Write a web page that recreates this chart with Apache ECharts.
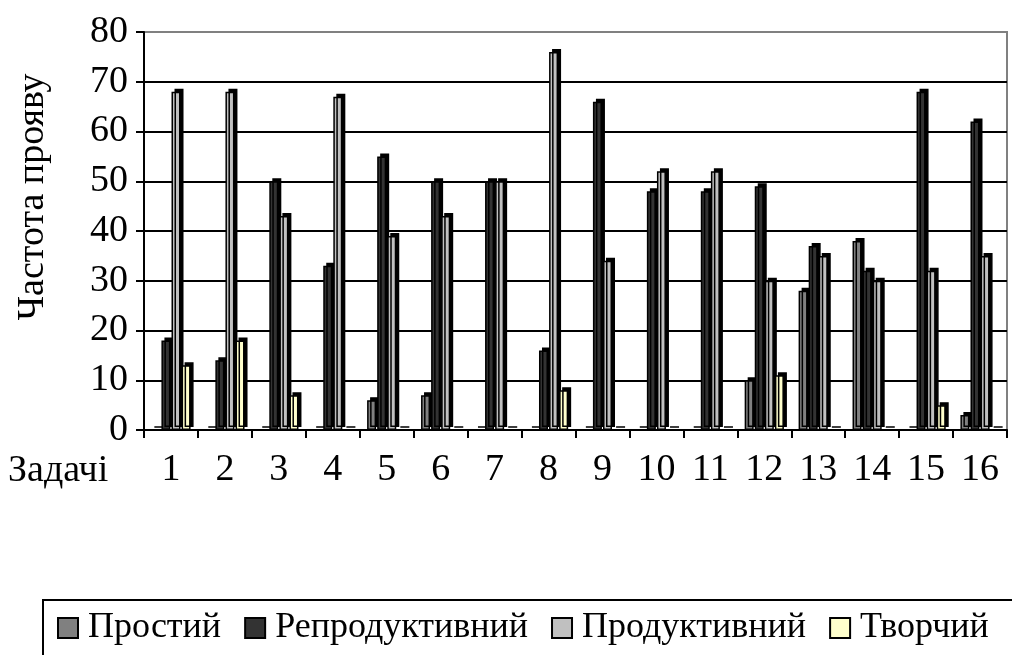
<!DOCTYPE html>
<html><head><meta charset="utf-8">
<script src="https://cdn.jsdelivr.net/npm/echarts@6/dist/echarts.min.js"></script>
<style>html,body{margin:0;padding:0;background:#fff}#c{width:1012px;height:655px}</style>
</head><body><div id="c"></div>
<script>
const categories = ['1','2','3','4','5','6','7','8','9','10','11','12','13','14','15','16'];
const seriesNames = ['Простий','Репродуктивний','Продуктивний','Творчий'];
const prostyi = [0,0,0,0,6,7,0,0,0,0,0,10,28,38,0,3];
const reproduktyvnyi = [18,14,50,33,55,50,50,16,66,48,48,49,37,32,68,62];
const produktyvnyi = [68,68,43,67,39,43,50,76,34,52,52,30,35,30,32,35];
const tvorchyi = [13,18,7,0,0,0,0,8,0,0,0,11,0,0,5,0];
const yTicks = [0,10,20,30,40,50,60,70,80];
const colors = ['#808080','#333333','#c0c0c0','#ffffcc'];
const FONT = '"Liberation Serif","Times New Roman",serif';
const dataSets = [prostyi, reproduktyvnyi, produktyvnyi, tvorchyi];

const chart = echarts.init(document.getElementById('c'), null, {renderer:'canvas'});
chart.setOption({
  animation:false,
  backgroundColor:'#fff',
  grid:{left:144,right:5,top:32,bottom:225,show:true,borderColor:'#808080',borderWidth:2,backgroundColor:'transparent'},
  legend:{
    data:seriesNames, left:43, top:600, width:1100, orient:'horizontal',
    itemWidth:20, itemHeight:20, itemGap:23,
    padding:[10,60,30,14],
    borderColor:'#000', borderWidth:2,
    textStyle:{fontFamily:FONT,fontSize:36,color:'#000',padding:[0,0,0,5]},
    icon:'rect',
    itemStyle:{borderColor:'#000',borderWidth:2}
  },
  graphic:[
    {type:'text',x:8,y:471,style:{text:'Задачі',font:'38px '+FONT,fill:'#000',textVerticalAlign:'middle'}},
    {type:'text',x:33,y:197,rotation:Math.PI/2,style:{text:'Частота прояву',font:'38px '+FONT,fill:'#000',textAlign:'center',textVerticalAlign:'middle'}}
  ],
  xAxis:{
    type:'category', data:categories,
    axisLine:{lineStyle:{color:'#000',width:2}},
    axisTick:{show:true,length:8,lineStyle:{color:'#000',width:2},alignWithLabel:false},
    axisLabel:{fontFamily:FONT,fontSize:38,color:'#000',margin:21,interval:0}
  },
  yAxis:{
    type:'value', min:0, max:80, interval:10,
    axisLine:{show:true,lineStyle:{color:'#000',width:2}},
    axisTick:{show:true,length:8,lineStyle:{color:'#000',width:2}},
    axisLabel:{fontFamily:FONT,fontSize:38,color:'#000',margin:16,
      formatter:v=>yTicks.indexOf(v)>=0?String(v):''},
    splitLine:{show:true,lineStyle:{color:['#000','#000','#000','#000','#000','#000','#000','#000','#808080'],width:2}}
  },
  series:seriesNames.map((n,i)=>({
    name:n, type:'bar', data:dataSets[i],
    barWidth:9, barGap:'12%',
    itemStyle:{color:colors[i],borderColor:'#000',borderWidth:1.5,
      shadowColor:'#000',shadowBlur:0,shadowOffsetX:3,shadowOffsetY:-3}
  }))
});
</script></body></html>
